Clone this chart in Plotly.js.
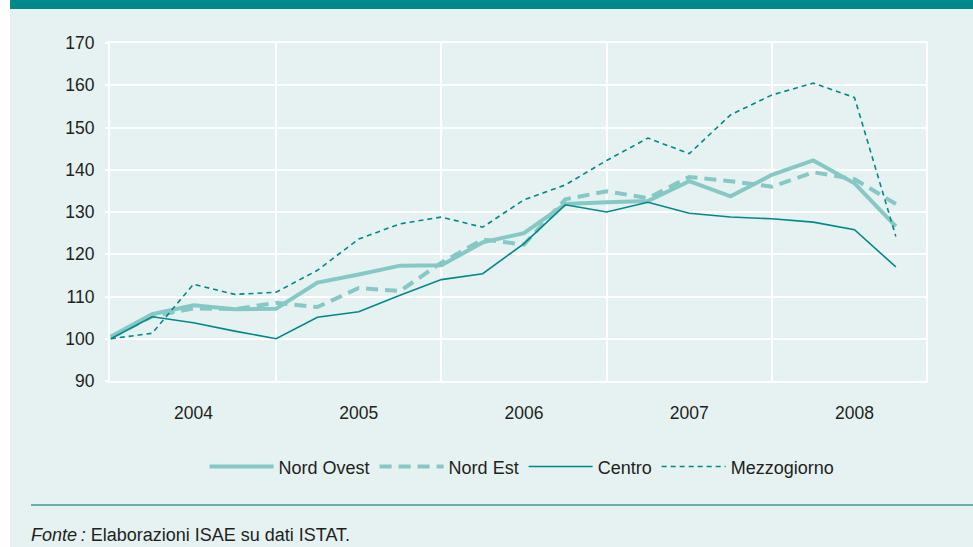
<!DOCTYPE html>
<html>
<head>
<meta charset="utf-8">
<script src="https://cdn.plot.ly/plotly-3.0.1.min.js"></script>
<style>
  html, body { margin: 0; padding: 0; background: #ffffff; }
  #myDiv { width: 973px; height: 547px; }
</style>
</head>
<body>
<div id="myDiv"></div>
<script>
// quarters 2004 Q1 .. 2008 Q4, plotted by index
var quarters = [0, 1, 2, 3, 4, 5, 6, 7, 8, 9, 10, 11, 12, 13, 14, 15, 16, 17, 18, 19];
var yearTicks = [2, 6, 10, 14, 18];
var yearLabels = ['2004', '2005', '2006', '2007', '2008'];
var yearBounds = [0, 4, 8, 12, 16];

var nordOvest = [100.5, 105.8, 107.9, 107.0, 107.1, 113.3, 115.2, 117.3, 117.4, 122.8,
                 125.0, 131.9, 132.3, 132.6, 137.3, 133.7, 138.8, 142.2, 136.8, 126.6];
var nordEst = [100.3, 105.3, 107.2, 107.0, 108.5, 107.5, 112.0, 111.3, 118.0, 123.5,
               122.3, 133.0, 134.9, 133.3, 138.3, 137.3, 136.0, 139.4, 137.8, 131.9];
var centro = [100.0, 105.2, 103.8, 101.8, 100.0, 105.1, 106.4, 110.3, 114.0, 115.4,
              122.5, 131.7, 130.0, 132.3, 129.7, 128.8, 128.4, 127.6, 125.8, 117.0];
var mezzogiorno = [100.0, 101.3, 112.9, 110.5, 111.0, 116.2, 123.6, 127.2, 128.8, 126.4,
                   132.9, 136.4, 142.2, 147.5, 143.8, 153.0, 157.7, 160.5, 157.1, 124.2];

var light = '#86c8c5';
var dark = '#00898a';
var bg = '#e5f2f1';

var data = [
    {x: quarters, y: nordOvest, type: 'scatter', mode: 'lines', name: 'Nord Ovest',
     line: {color: light, width: 4}},
    {x: quarters, y: nordEst, type: 'scatter', mode: 'lines', name: 'Nord Est',
     line: {color: light, width: 4, dash: '12px,7px'}},
    {x: quarters, y: centro, type: 'scatter', mode: 'lines', name: 'Centro',
     line: {color: dark, width: 1.6}},
    {x: quarters, y: mezzogiorno, type: 'scatter', mode: 'lines', name: 'Mezzogiorno',
     line: {color: dark, width: 1.6, dash: '5px,4px'}}
];

var layout = {
    width: 973,
    height: 547,
    margin: {l: 110, r: 47, t: 43, b: 166},
    paper_bgcolor: bg,
    plot_bgcolor: bg,
    font: {family: 'Liberation Sans, Arial, sans-serif', size: 17.5, color: '#231f20'},
    hovermode: false,
    xaxis: {
        range: [-0.02, 19.73],
        tickmode: 'array',
        tickvals: yearTicks,
        ticktext: yearLabels,
        ticks: '',
        showgrid: false,
        zeroline: false,
        showline: true,
        mirror: true,
        linecolor: '#ffffff',
        linewidth: 2,
        ticklabelstandoff: 15,
        minor: {tickmode: 'array', tickvals: yearBounds, showgrid: true,
                gridcolor: '#ffffff', gridwidth: 2, ticks: ''}
    },
    yaxis: {
        range: [90, 170],
        tickmode: 'array',
        tickvals: [90, 100, 110, 120, 130, 140, 150, 160, 170],
        ticks: 'outside',
        ticklen: 3,
        tickwidth: 2,
        tickcolor: '#ffffff',
        showgrid: true,
        gridcolor: '#ffffff',
        gridwidth: 2,
        zeroline: false,
        showline: true,
        mirror: true,
        linecolor: '#ffffff',
        linewidth: 2,
        ticklabelstandoff: 7
    },
    legend: {
        orientation: 'h',
        x: 0.505,
        xanchor: 'center',
        y: -0.254,
        yanchor: 'middle',
        itemwidth: 64,
        bgcolor: 'rgba(0,0,0,0)',
        font: {size: 18}
    },
    shapes: [
        // white strip on the left
        {type: 'rect', xref: 'paper', yref: 'paper', x0: -0.2, x1: -0.1225, y0: -0.6, y1: 1.2,
         fillcolor: '#ffffff', line: {width: 0}, layer: 'below'},
        // top band
        {type: 'rect', xref: 'paper', yref: 'paper', x0: -0.1225, x1: 1.07, y0: 1.1006, y1: 1.2,
         fillcolor: dark, line: {width: 0}, layer: 'below'},
        // rule above the source note
        {type: 'line', xref: 'paper', yref: 'paper', x0: -0.0968, x1: 1.07, y0: -0.3669, y1: -0.3669,
         line: {color: '#3a9a98', width: 1.5}}
    ],
    annotations: [
        {xref: 'paper', yref: 'paper', x: -0.0995, y: -0.4556, xanchor: 'left', yanchor: 'middle',
         showarrow: false, text: '<i>Fonte\u2009:</i> Elaborazioni ISAE su dati ISTAT.',
         font: {size: 18, color: '#231f20'}}
    ]
};

Plotly.newPlot('myDiv', data, layout, {displayModeBar: false, staticPlot: true});
</script>
</body>
</html>
